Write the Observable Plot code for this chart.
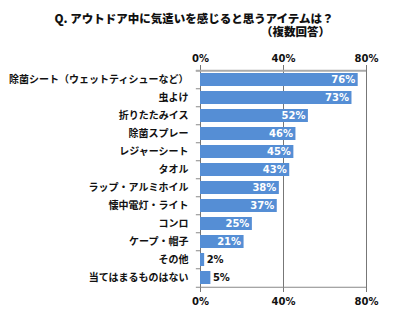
<!DOCTYPE html>
<html>
<head>
<meta charset="utf-8">
<script src="https://cdn.jsdelivr.net/npm/d3@7"></script>
<script src="https://cdn.jsdelivr.net/npm/@observablehq/plot@0.6"></script>
<style>
  body { margin: 0; background: #fff; }
  #wrap { position: relative; width: 400px; height: 321px; overflow: hidden; }
  #title { position: absolute; left: 0; top: 12px; width: 388px; text-align: center;
    font-family: "Noto Sans CJK JP", sans-serif; font-weight: 900; font-size: 11.5px; line-height: 13px; color: #111; }
  #title .sub { display: block; text-align: right; padding-right: 58px; }
</style>
</head>
<body>
<div id="wrap">
  <div id="title"><span>Q. アウトドア中に気遣いを感じると思うアイテムは？</span><span class="sub">（複数回答）</span></div>
</div>
<script>
const categories = [
  "除菌シート（ウェットティシューなど）",
  "虫よけ",
  "折りたたみイス",
  "除菌スプレー",
  "レジャーシート",
  "タオル",
  "ラップ・アルミホイル",
  "懐中電灯・ライト",
  "コンロ",
  "ケープ・帽子",
  "その他",
  "当てはまるものはない"
];
const values = [76, 73, 52, 46, 45, 43, 38, 37, 25, 21, 2, 5];
const xTicks = [0, 40, 80];

const data = categories.map((c, i) => ({category: c, value: values[i]}));
const half = 222 / 12 / 2;
const jp = "'Noto Sans CJK JP', sans-serif";
const num = "'DejaVu Sans', sans-serif";

const chart = Plot.plot({
  width: 400,
  height: 321,
  marginLeft: 200,
  marginRight: 34,
  marginTop: 67,
  marginBottom: 32,
  style: {background: "transparent", overflow: "visible"},
  x: {domain: [0, 80], ticks: xTicks},
  y: {domain: categories, paddingInner: 0.3, paddingOuter: 0.15},
  marks: [
    Plot.ruleX(xTicks, {stroke: "#777", strokeWidth: 1}),
    Plot.ruleY([categories[categories.length - 1]], {x1: -2, x2: 80, dy: half, stroke: "#888"}),
    Plot.ruleY(categories, {x1: -2, x2: 0, dy: -half, stroke: "#888"}),
    Plot.ruleY([categories[0]], {x1: -2, x2: 80, dy: -half, stroke: "#aaa", strokeWidth: 2}),
    Plot.barX(data, {y: "category", x: "value", fill: "#558ed5"}),
    Plot.text(data.filter(d => d.value >= 10), {
      y: "category", x: "value", text: d => d.value + "%",
      textAnchor: "end", dx: -3, fill: "white", fontWeight: "bold", fontSize: 10, fontFamily: num
    }),
    Plot.text(data.filter(d => d.value < 10), {
      y: "category", x: "value", text: d => d.value + "%",
      textAnchor: "start", dx: 2, fill: "#111", fontWeight: "bold", fontSize: 10, fontFamily: num
    }),
    Plot.axisX({anchor: "top", ticks: xTicks, tickSize: 3, tickPadding: 3, tickFormat: d => d + "%",
      stroke: "#777", fill: "#111", fontWeight: "bold", fontSize: 10, fontFamily: num, label: null}),
    Plot.axisX({anchor: "bottom", ticks: xTicks, tickSize: 3, tickPadding: 5, tickFormat: d => d + "%",
      stroke: "#777", fill: "#111", fontWeight: "bold", fontSize: 10, fontFamily: num, label: null}),
    Plot.axisY({tickSize: 0, tickPadding: 12, fontWeight: "bold", fontSize: 10, fontFamily: jp, fill: "#111", label: null})
  ]
});
document.getElementById("wrap").prepend(chart);
</script>
</body>
</html>
